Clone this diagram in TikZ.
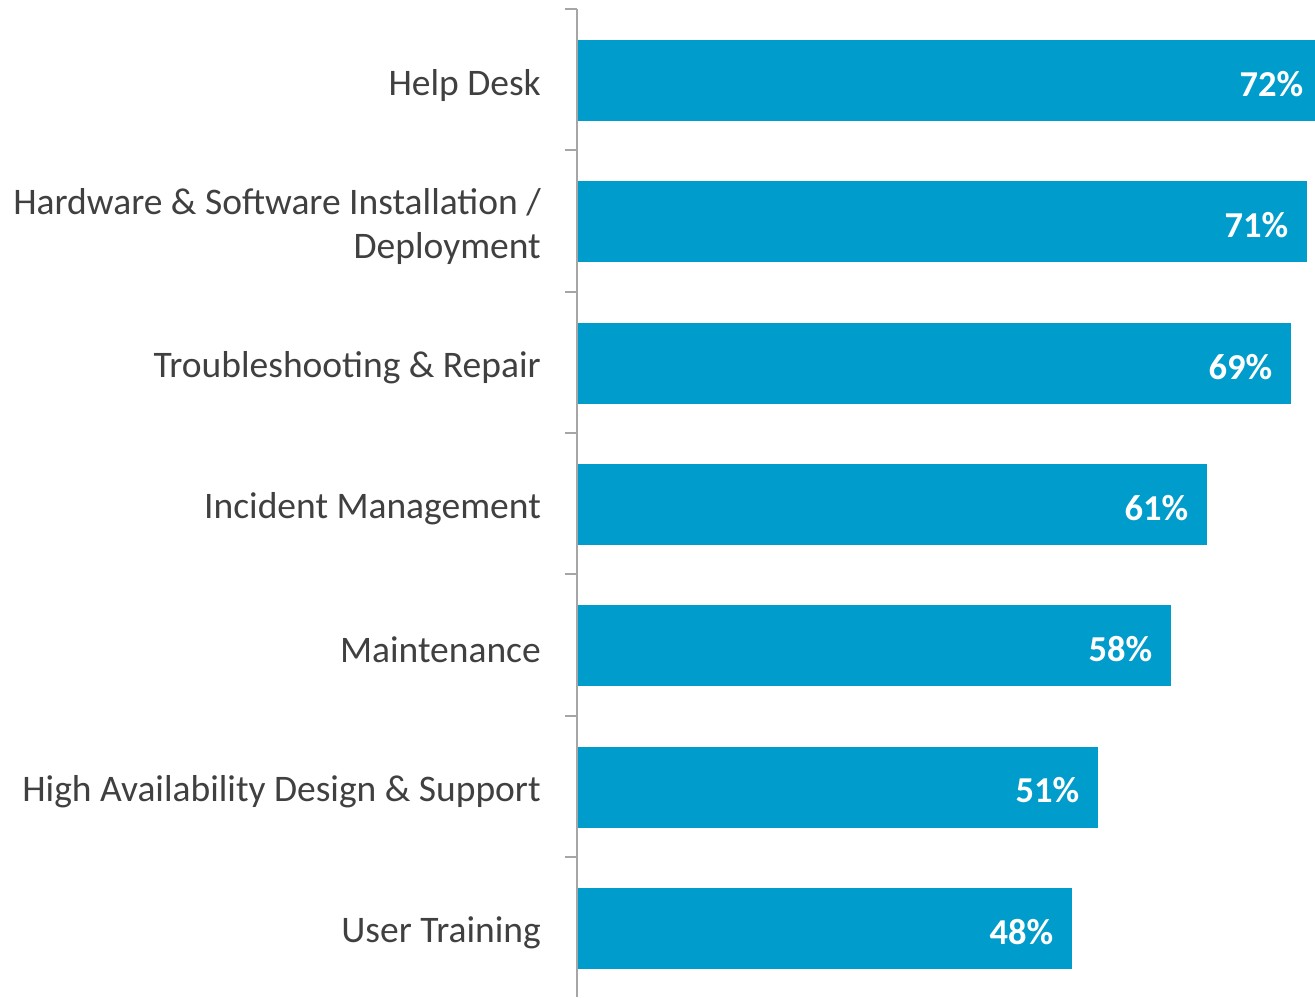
\documentclass[tikz,border=0pt]{standalone}
\usepackage{fontspec}
\setmainfont{Carlito}
\definecolor{barblue}{HTML}{009CCB}
\definecolor{labelgray}{HTML}{404040}
\definecolor{axisgray}{HTML}{A6A6A6}
\begin{document}
\begin{tikzpicture}[x=1pt, y=-1pt, font=\fontsize{37.5}{44}\selectfont, line cap=butt]
			\def\rowsep{141.3}
			\def\barx{578}
			\tikzset{bar/.style={fill=barblue, inner sep=0pt, minimum height=81pt, anchor=west},
				pct/.style={text=white, font=\fontsize{36.5}{44}\selectfont\bfseries, anchor=east, inner sep=0pt},
				cat/.style={text=labelgray, align=right, anchor=east, inner sep=0pt}}
			\useasboundingbox (0,0) rectangle (1315,997);
			\clip (0,0) rectangle (1315,997);
			\coordinate (axtop) at (577,9);
			\coordinate (axbot) at (577,997);
			\draw[axisgray, line width=2pt] (axtop) -- (axbot);
			\foreach \i in {0,...,6}
				\draw[axisgray, line width=2pt] (565,9+\i*\rowsep) -- (577,9+\i*\rowsep);
			\foreach \i/\e/\p/\t in {0/1322/72/Help Desk, 1/1307/71/{Hardware \& Software Installation /\\Deployment},
				2/1291/69/Troubleshooting \& Repair, 3/1207/61/Incident Management, 4/1171/58/Maintenance,
				5/1098/51/High Availability Design \& Support, 6/1072/48/User Training}{
				\node[bar, minimum width={\e-\barx}] (bar\i) at (\barx,80.5+\i*\rowsep) {};
				\node[pct] (pct\i) at ([xshift=-19pt, yshift=-3.5pt]bar\i.east) {\p\%};
				\node[cat] (cat\i) at (541,85+\i*\rowsep) {\t};
			}
		\end{tikzpicture}
\end{document}
